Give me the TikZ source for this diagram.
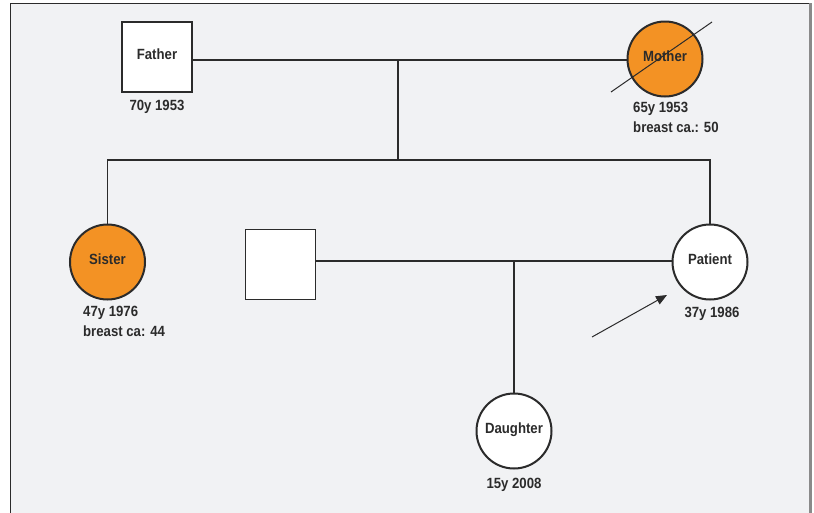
\documentclass[tikz,border=0pt]{standalone}
\usepackage{fontspec}
\setmainfont{Liberation Sans}[FakeStretch=0.89]
\usetikzlibrary{arrows.meta}
\definecolor{bg}{HTML}{F1F2F4}
\definecolor{ink}{HTML}{2B2B2B}
\definecolor{orng}{HTML}{F39224}
\definecolor{frame}{HTML}{8A8A8A}
\tikzset{
  lbl/.style={font=\fontsize{14.8}{17}\selectfont\bfseries, text=ink, inner sep=0pt},
  inlbl/.style={lbl, text height=11pt, text depth=6pt},
  male/.style={draw=ink, line width=2.2pt, fill=white, minimum size=70pt, inner sep=0pt, inlbl},
  malethin/.style={draw=ink, line width=1pt, fill=white, minimum size=70pt, inner sep=0pt},
  female/.style={circle, draw=ink, line width=2pt, fill=white, minimum size=75pt, inner sep=0pt, inlbl},
  affected/.style={fill=orng},
  link/.style={draw=ink, line width=1.1pt},
  info/.style={lbl, align=left, anchor=north west},
  infoc/.style={lbl, align=center, anchor=north},
}
\begin{document}
\begin{tikzpicture}[x=1pt,y=-1pt]
\useasboundingbox (0,0) rectangle (814,512);
\fill[white] (0,0) rectangle (814,512);
\fill[bg] (10.5,3.5) rectangle (809,515);
\draw[ink, line width=1pt] (10.5,520) -- (10.5,3.5) -- (809,3.5);
\fill[frame] (809,3) rectangle (812,515);

% nodes
\node[male] (father) at (157,57) {Father};
\node[female, affected] (mother) at (665,59) {Mother};
\node[female, affected] (sister) at (107.5,262) {Sister};
\node[malethin] (spouse) at (280,264) {};
\node[female] (patient) at (710,262) {Patient};
\node[female] (daughter) at (514,431) {Daughter};

% labels
\node[infoc] (fl) at (157,100) {70y 1953};
\node[info] (ml) at (633,102) {65y 1953\\[2.5pt]breast ca.: 50};
\node[info] (sl) at (83,306) {47y 1976\\[2.5pt]breast ca: 44};
\node[infoc] (pl) at (712,307) {37y 1986};
\node[infoc] (dl) at (514,478) {15y 2008};

% deceased strike
\coordinate (s1) at (611,92);
\coordinate (s2) at (712,22);
\draw[ink, line width=1pt] (s1) -- (s2);

% connectors
\coordinate (m1) at (398,60);
\coordinate (m2) at (398,160);
\coordinate (sl1) at (sister.north |- m2);
\coordinate (sr1) at (patient.north |- m2);
\draw[link] (father.east |- m1) -- (mother.west |- m1);
\draw[link] (m1) -- (m2);
\draw[link] (sister.north) -- (sl1) -- (sr1) -- (patient.north);
\coordinate (c1) at (514,261);
\draw[link] (spouse.east |- c1) -- (patient.west |- c1);
\draw[link] (c1) -- (daughter.north);

% proband arrow
\coordinate (a0) at (592,337);
\coordinate (a1) at (667,295);
\draw[ink, line width=1pt, -{Triangle[length=11pt, width=9pt]}] (a0) -- (a1);
\end{tikzpicture}
\end{document}
